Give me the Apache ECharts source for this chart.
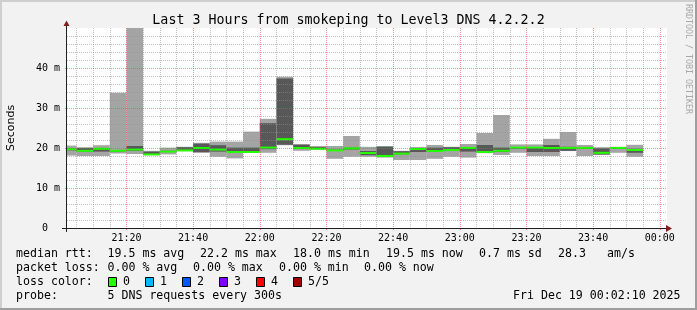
<!DOCTYPE html>
<html><head><meta charset="utf-8">
<script src="https://cdn.jsdelivr.net/npm/echarts@6/dist/echarts.min.js"></script>
<style>html,body{margin:0;padding:0;background:#f2f2f2}#c{width:697px;height:310px}</style>
</head><body><div id="c"></div>
<script>
// time in minutes since 21:00; each bin = 5 minutes
const binStart = [0,5,10,15,20,25,30,35,40,45,50,55,60,65,70,75,80,85,90,95,100,105,110,115,120,125,130,135,140,145,150,155,160,165,170];
const pingMin  = [18.1,18.0,18.0,18.6,18.5,18.2,18.4,19.2,18.9,17.8,17.4,18.9,18.8,20.7,19.3,19.6,17.3,17.8,17.8,17.6,17.0,17.0,17.3,17.8,17.6,18.7,18.25,18.8,18.0,18.0,19.25,18.0,18.25,18.8,17.8];
const ping2    = [19.4,19.1,19.1,19.1,19.3,18.3,19.0,19.3,18.9,19.1,18.9,19.0,19.7,20.8,19.9,19.7,19.3,19.6,18.2,17.9,18.4,19.0,19.0,19.3,19.1,19.0,19.0,19.8,19.0,19.0,19.3,19.8,18.4,19.9,18.8];
const medianRtt= [19.7,19.3,19.8,19.3,19.6,18.4,19.1,19.4,20.0,19.6,19.0,19.0,20.1,22.2,20.0,19.8,19.4,19.9,18.75,18.0,18.6,19.75,19.25,19.5,20.0,19.0,19.3,20.1,20.1,20.0,20.0,20.0,18.8,20.0,19.5];
const ping4    = [19.9,20.0,19.9,19.5,20.5,19.1,19.3,20.2,21.1,20.7,20.1,20.1,26.2,37.4,20.8,20.2,19.6,20.1,19.25,20.3,19.2,19.9,20.1,20.2,20.1,20.75,20.1,20.2,20.2,20.75,20.3,20.1,19.9,20.2,19.8];
const pingMax  = [20.6,20.2,20.7,33.8,50,19.3,20.1,20.3,21.3,21.6,21.6,24.1,27.3,37.8,21.0,20.5,20.5,23.0,20.3,20.5,19.3,20.25,20.75,20.3,21.0,23.75,28.25,20.9,20.9,22.3,24.0,20.75,20.2,20.3,20.8];
const binMinutes = 5;

const plotStart = 2 + 10/60;     // 21:02:10
const plotEnd = 182 + 10/60;     // 00:02:10
const xMajorTicks = [20,40,60,80,100,120,140,160,180];
const xTickLabels = ['21:20','21:40','22:00','22:20','22:40','23:00','23:20','23:40','00:00'];
const xMinorTicks = [5,10,15,25,30,35,45,50,55,65,70,75,85,90,95,105,110,115,125,130,135,145,150,155,165,170,175];
const yMajorTicks = [10,20,30,40];
const yMinorTicks = [2,4,6,8,12,14,16,18,22,24,26,28,32,34,36,38,42,44,46,48];

const legendRows = [
  [['median rtt:',16],['19.5 ms avg',107.5],['22.2 ms max',200],['18.0 ms min',293],['19.5 ms now',386],['0.7 ms sd',479],['28.3',558],['am/s',607]],
  [['packet loss:',16],['0.00 % avg',107.5],['0.00 % max',193],['0.00 % min',279],['0.00 % now',364]],
  [['loss color:',16],['0',123],['1',160],['2',197],['3',234],['4',271],['5/5',308]],
  [['probe:',16],['5 DNS requests every 300s',107.5],['Fri Dec 19 00:02:10 2025',513]]
];
const lossColors = ['#26ff00','#00b8ff','#0059ff','#7e00ff','#ff0000','#a00000'];
const lossBoxX = [108,145,182,219,256,293];
const rowY = [254.3,268.3,282.3,296.3];

const data = binStart.map((s,i)=>[s,pingMin[i],ping2[i],medianRtt[i],ping4[i],pingMax[i]]);

// grid line table: [x value, y value, kind] kind 0=x minor,1=x major,2=y minor,3=y major
const gridData = [];
xMinorTicks.forEach(v=>gridData.push([v,0,0]));
xMajorTicks.forEach(v=>gridData.push([v,0,1]));
yMinorTicks.forEach(v=>gridData.push([plotStart,v,2]));
yMajorTicks.forEach(v=>gridData.push([plotStart,v,3]));
const MINOR_C='rgba(143,143,143,0.55)', MAJOR_C='rgba(222,79,79,0.6)';

const MONO = '"DejaVu Sans Mono", monospace';
const graphics = [];
graphics.push({type:'rect',shape:{x:0,y:0,width:697,height:2},style:{fill:'#cfcfcf'},silent:true});
graphics.push({type:'rect',shape:{x:0,y:0,width:2,height:310},style:{fill:'#cfcfcf'},silent:true});
graphics.push({type:'rect',shape:{x:0,y:308,width:697,height:2},style:{fill:'#9e9e9e'},silent:true});
graphics.push({type:'rect',shape:{x:695,y:0,width:2,height:310},style:{fill:'#9e9e9e'},silent:true});
graphics.push({type:'line',shape:{x1:66.5,y1:22,x2:66.5,y2:232},style:{stroke:'#1f1f1f',lineWidth:1},z:100});
graphics.push({type:'line',shape:{x1:62,y1:228.5,x2:668,y2:228.5},style:{stroke:'#1f1f1f',lineWidth:1},z:100});
graphics.push({type:'polygon',shape:{points:[[63.5,26],[66.5,20.5],[69.5,26]]},style:{fill:'#801f1f'},z:101});
graphics.push({type:'polygon',shape:{points:[[666,225],[672,228.5],[666,232]]},style:{fill:'#801f1f'},z:101});
graphics.push({type:'text',x:688,y:4,rotation:-Math.PI/2,style:{text:'RRDTOOL / TOBI OETIKER',font:'8.3px '+MONO,fill:'#a8a8a8',align:'left',verticalAlign:'middle'},silent:true});
legendRows.forEach((row,r)=>row.forEach(([t,x])=>{
  graphics.push({type:'text',x:x,y:rowY[r],style:{text:t,font:'11.6px '+MONO,fill:'#000',align:'left',verticalAlign:'middle'},silent:true});
}));
lossColors.forEach((c,i)=>{
  graphics.push({type:'rect',shape:{x:lossBoxX[i]+0.5,y:277.5,width:8,height:9},style:{fill:c,stroke:'#000',lineWidth:1},silent:true});
});

const chart = echarts.init(document.getElementById('c'), null, {renderer:'canvas'});
chart.setOption({
  animation:false,
  backgroundColor:'#f2f2f2',
  title:{text:'Last 3 Hours from smokeping to Level3 DNS 4.2.2.2',left:'center',top:9,
    textStyle:{fontFamily:MONO,fontSize:13.3,fontWeight:'normal',color:'#000'}},
  grid:{left:67,right:30,top:28,bottom:82,show:true,backgroundColor:'#ffffff',borderWidth:0,
    containLabel:false,outerBoundsMode:'none'},
  xAxis:{type:'value',min:plotStart,max:plotEnd,z:5,
    axisLine:{show:false},
    axisTick:{show:true,customValues:xMajorTicks,length:2,lineStyle:{color:'rgba(222,79,79,0.7)'}},
    splitLine:{show:false},
    axisLabel:{customValues:xMajorTicks,margin:5,fontFamily:MONO,fontSize:10,color:'#000',
      formatter:v=>xTickLabels[xMajorTicks.indexOf(Math.round(v))]||''}},
  yAxis:{type:'value',min:0,max:50,interval:10,z:5,
    name:'Seconds',nameLocation:'middle',nameGap:50,
    nameTextStyle:{fontFamily:'"DejaVu Sans", sans-serif',fontSize:11,color:'#000'},
    axisLine:{show:false},
    axisTick:{show:true,length:2,lineStyle:{color:'rgba(222,79,79,0.7)'}},
    splitLine:{show:false},
    axisLabel:{margin:7,fontFamily:MONO,fontSize:10,color:'#000',showMaxLabel:false,
      formatter:v=>v===0?'0  ':(v+' m')}},
  graphic:graphics,
  series:[{
    type:'custom',clip:true,z:2,
    data:data,
    encode:{x:0,y:[1,5]},
    renderItem:function(params,api){
      const x0=api.value(0), x1=x0+binMinutes;
      const pMax0=api.coord([x0,api.value(5)]), pMin1=api.coord([x1,api.value(1)]);
      const p4a=api.coord([x0,api.value(4)]), p2b=api.coord([x1,api.value(2)]);
      const med=api.coord([x0,api.value(3)]);
      const cs=params.coordSys;
      const clipR={x:cs.x,y:cs.y,width:cs.width,height:cs.height};
      const mk=(a,b,fill)=>{
        const r=echarts.graphic.clipRectByRect({x:a[0],y:a[1],width:b[0]-a[0],height:b[1]-a[1]},clipR);
        return r?{type:'rect',shape:r,style:{fill:fill}}:null;
      };
      const kids=[
        mk(pMax0,pMin1,'#a4a4a4'),
        mk(p4a,p2b,'#585858'),
        mk([pMax0[0],med[1]-1],[pMin1[0],med[1]+1],'#26ff00')
      ].filter(Boolean);
      return {type:'group',children:kids};
    }
  },{
    type:'custom',z:6,silent:true,
    data:gridData,
    encode:{x:0,y:1},
    renderItem:function(params,api){
      const k=api.value(2), cs=params.coordSys;
      const c=(k===1||k===3)?MAJOR_C:MINOR_C;
      const p=api.coord([api.value(0),api.value(1)]);
      if(k<2){
        const px=Math.round(p[0])+0.5;
        return {type:'line',shape:{x1:px,y1:cs.y,x2:px,y2:cs.y+cs.height},style:{stroke:c,lineWidth:1,lineDash:[1,1]}};
      }
      const py=Math.round(p[1])+0.5;
      return {type:'line',shape:{x1:cs.x,y1:py,x2:cs.x+cs.width,y2:py},style:{stroke:c,lineWidth:1,lineDash:[1,1]}};
    }
  }]
});
</script></body></html>
